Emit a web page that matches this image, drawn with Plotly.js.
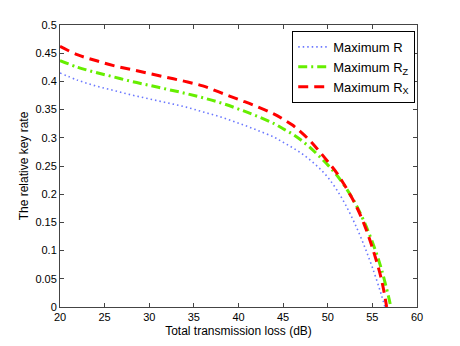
<!DOCTYPE html>
<html>
<head>
<meta charset="utf-8">
<script src="https://cdn.plot.ly/plotly-3.0.1.min.js"></script>
<style>
  html, body { margin: 0; padding: 0; background: #fff; }
  #chart { width: 460px; height: 346px; }
</style>
</head>
<body>
<div id="chart"></div>
<script>
// values
var lossR  = [20, 22, 24, 26, 28, 30, 32, 34, 36, 38, 40, 42, 44, 45, 46, 47, 48, 49, 50, 51, 52, 53, 54, 55, 56, 56.4];
var rateR  = [0.415, 0.402, 0.392, 0.384, 0.376, 0.369, 0.362, 0.355, 0.346, 0.337, 0.326, 0.314, 0.301, 0.292, 0.283, 0.273, 0.261, 0.247, 0.230, 0.208, 0.181, 0.149, 0.112, 0.070, 0.022, 0];

var lossRz = [20, 22, 24, 26, 28, 30, 32, 34, 36, 38, 40, 42, 44, 45, 46, 47, 48, 49, 50, 51, 52, 53, 54, 55, 56, 57, 57.05];
var rateRz = [0.437, 0.425, 0.416, 0.408, 0.400, 0.393, 0.386, 0.379, 0.371, 0.362, 0.351, 0.339, 0.325, 0.316, 0.307, 0.296, 0.283, 0.268, 0.252, 0.234, 0.212, 0.186, 0.154, 0.115, 0.068, 0.005, 0];

var lossRx = [20, 22, 24, 26, 28, 30, 32, 34, 36, 38, 40, 42, 44, 45, 46, 47, 48, 49, 50, 51, 52, 53, 54, 55, 56, 56.6];
var rateRx = [0.462, 0.447, 0.437, 0.428, 0.421, 0.414, 0.407, 0.400, 0.392, 0.380, 0.368, 0.356, 0.342, 0.333, 0.323, 0.310, 0.295, 0.277, 0.258, 0.238, 0.213, 0.185, 0.150, 0.105, 0.050, 0];

var names = ['Maximum R', 'Maximum R<sub>Z</sub>', 'Maximum R<sub>X</sub>'];

var font = 'Liberation Sans, Arial, sans-serif';

var traces = [
    { x: lossR, y: rateR, name: names[0], mode: 'lines', line: { color: '#6b78ff', width: 1.6, dash: '1.5px,3px', shape: 'spline' } },
    { x: lossRz, y: rateRz, name: names[1], mode: 'lines', line: { color: '#66ee00', width: 3, dash: '9px,4px,2px,4px', shape: 'spline' } },
    { x: lossRx, y: rateRx, name: names[2], mode: 'lines', line: { color: '#ff0000', width: 3, dash: '10px,6px', shape: 'spline' } }
];

var axisStyle = {
    showgrid: false,
    zeroline: false,
    showline: true,
    linecolor: '#444',
    linewidth: 1,
    mirror: 'ticks',
    ticks: 'inside',
    ticklen: 4,
    tickcolor: '#444',
    tickfont: { family: font, size: 11, color: '#000' }
};

var layout = {
    width: 460,
    height: 346,
    margin: { l: 60, r: 43, t: 25, b: 39 },
    paper_bgcolor: '#fff',
    plot_bgcolor: '#fff',
    showlegend: true,
    legend: {
        x: 0.995, y: 0.979, xanchor: 'right', yanchor: 'top',
        bgcolor: '#fff', bordercolor: '#000', borderwidth: 1,
        font: { family: font, size: 13, color: '#000' },
        tracegroupgap: 0
    },
    xaxis: Object.assign({}, axisStyle, {
        range: [20, 60], dtick: 5, tick0: 20,
        title: { text: 'Total transmission loss (dB)', standoff: 4,
                 font: { family: font, size: 12, color: '#000' } }
    }),
    yaxis: Object.assign({}, axisStyle, {
        range: [0, 0.5], dtick: 0.05, tick0: 0,
        title: { text: 'The relative key rate', standoff: 4,
                 font: { family: font, size: 12, color: '#000' } }
    })
};

Plotly.newPlot('chart', traces, layout, { displayModeBar: false, staticPlot: true });
</script>
</body>
</html>
